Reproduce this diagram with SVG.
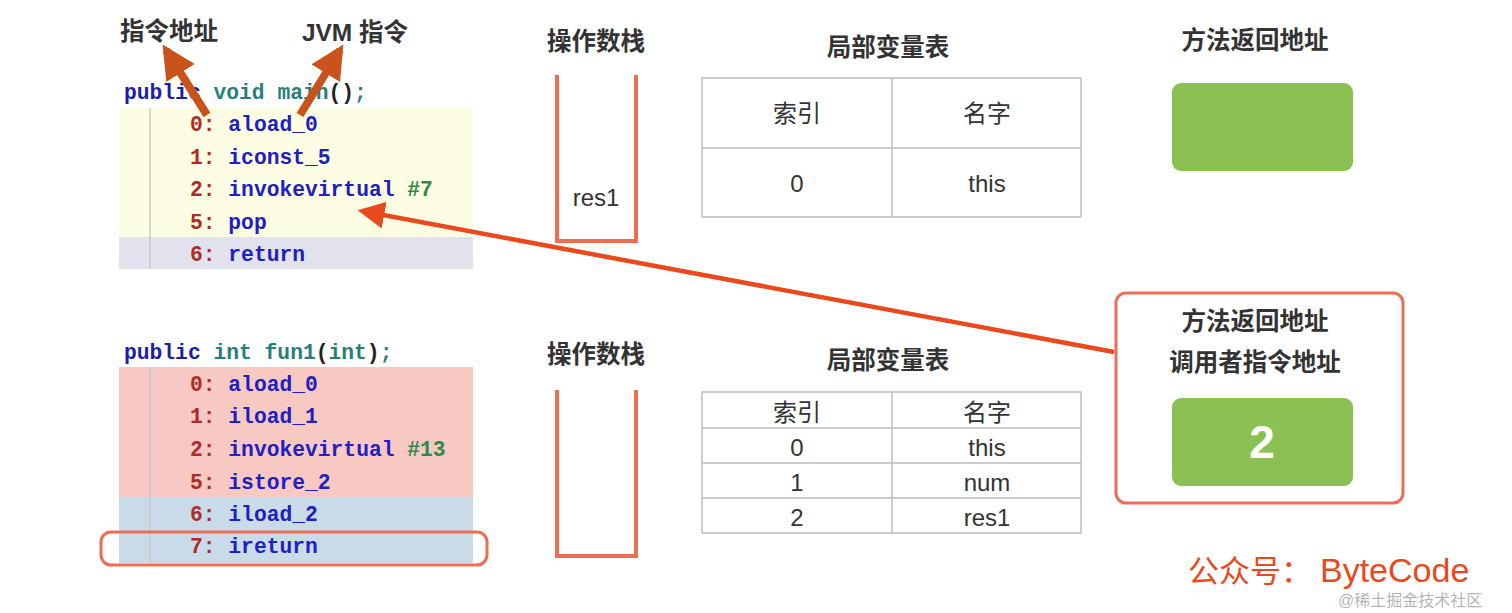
<svg xmlns="http://www.w3.org/2000/svg" width="1512" height="613" viewBox="0 0 1512 613">
<style>
.h{font-family:"Liberation Sans","Noto Sans CJK SC",sans-serif;font-weight:bold;font-size:24.5px;fill:#333;text-anchor:middle;dominant-baseline:central}
.t{font-family:"Liberation Sans","Noto Sans CJK SC",sans-serif;font-size:24px;fill:#333;text-anchor:middle;dominant-baseline:central}
.code{font-family:"Liberation Mono","DejaVu Sans Mono",monospace;font-size:21.3px;font-weight:bold}
.kw{fill:#1d1da8}.ty{fill:#2a7f77}.num{fill:#b02a2a}.op{fill:#2020c0}.ref{fill:#2f8a4a}.pn{fill:#222}
.stack{fill:none;stroke:#ec6f55;stroke-width:4}
.grid{fill:none;stroke:#bdbdbd;stroke-width:1.5}
.green{fill:#8bc152}
.gut{stroke:#c8c8c8;stroke-width:1.5}
</style>
<defs>
<marker id="bigHead" markerWidth="6" markerHeight="6" refX="5" refY="3" orient="auto" markerUnits="strokeWidth">
<path d="M0,0 L6,3 L0,6 Z" fill="#e8491d"/>
</marker>
<marker id="thickHead" markerWidth="4.2" markerHeight="4.2" refX="3.4" refY="2.1" orient="auto" markerUnits="strokeWidth">
<path d="M0,0 L4.2,2.1 L0,4.2 Z" fill="#c9531c"/>
</marker>
</defs>
<rect width="1512" height="613" fill="#fff"/>

<g id="code-main">
<rect x="119" y="108" width="354" height="129" fill="#fdfde3"/>
<rect x="119" y="237" width="354" height="32" fill="#e2e1ee"/>
<line class="gut" x1="150" y1="108" x2="150" y2="269"/>
<text class="code" x="124" y="99"><tspan class="kw">public</tspan> <tspan class="ty">void</tspan> <tspan class="ty">main</tspan><tspan class="pn">()</tspan><tspan class="ty">;</tspan></text>
<text class="code" x="190" y="131"><tspan class="num">0:</tspan> <tspan class="op">aload_0</tspan></text>
<text class="code" x="190" y="164"><tspan class="num">1:</tspan> <tspan class="op">iconst_5</tspan></text>
<text class="code" x="190" y="196"><tspan class="num">2:</tspan> <tspan class="op">invokevirtual</tspan> <tspan class="ref">#7</tspan></text>
<text class="code" x="190" y="229"><tspan class="num">5:</tspan> <tspan class="op">pop</tspan></text>
<text class="code" x="190" y="261"><tspan class="num">6:</tspan> <tspan class="op">return</tspan></text>
</g>

<g id="code-fun1">
<rect x="119" y="367" width="354" height="130" fill="#f8c9c3"/>
<rect x="119" y="497" width="354" height="66" fill="#c9dbe8"/>
<line class="gut" x1="150" y1="367" x2="150" y2="563"/>
<text class="code" x="124" y="359"><tspan class="kw">public</tspan> <tspan class="ty">int</tspan> <tspan class="ty">fun1</tspan><tspan class="pn">(</tspan><tspan class="ty">int</tspan><tspan class="pn">)</tspan><tspan class="ty">;</tspan></text>
<text class="code" x="190" y="391"><tspan class="num">0:</tspan> <tspan class="op">aload_0</tspan></text>
<text class="code" x="190" y="423"><tspan class="num">1:</tspan> <tspan class="op">iload_1</tspan></text>
<text class="code" x="190" y="456"><tspan class="num">2:</tspan> <tspan class="op">invokevirtual</tspan> <tspan class="ref">#13</tspan></text>
<text class="code" x="190" y="489"><tspan class="num">5:</tspan> <tspan class="op">istore_2</tspan></text>
<text class="code" x="190" y="521"><tspan class="num">6:</tspan> <tspan class="op">iload_2</tspan></text>
<text class="code" x="190" y="553"><tspan class="num">7:</tspan> <tspan class="op">ireturn</tspan></text>
<rect x="101" y="532" width="386" height="33" rx="10" fill="none" stroke="#ec6f55" stroke-width="3"/>
</g>

<g id="label-addr"><text class="h" x="169" y="31">指令地址</text></g>
<g id="label-jvm"><text class="h" x="355" y="32">JVM 指令</text></g>

<g id="stack-top">
<text class="h" x="596" y="41">操作数栈</text>
<path class="stack" d="M557,75 V241 H636 V75"/>
<text class="t" x="596" y="197">res1</text>
</g>

<g id="locals-top">
<text class="h" x="888" y="47">局部变量表</text>
<rect class="grid" x="702" y="78" width="379" height="139"/>
<line class="grid" x1="892" y1="78" x2="892" y2="217"/>
<line class="grid" x1="702" y1="148" x2="1081" y2="148"/>
<text class="t" x="797" y="113">索引</text>
<text class="t" x="987" y="113">名字</text>
<text class="t" x="797" y="183">0</text>
<text class="t" x="987" y="183">this</text>
</g>

<g id="ret-top">
<text class="h" x="1255" y="40">方法返回地址</text>
<rect class="green" x="1172" y="83" width="181" height="88" rx="9"/>
</g>

<g id="stack-bottom">
<text class="h" x="596" y="354">操作数栈</text>
<path class="stack" d="M557,390 V556 H636 V390"/>
</g>

<g id="locals-bottom">
<text class="h" x="888" y="360">局部变量表</text>
<rect class="grid" x="702" y="392" width="379" height="141"/>
<line class="grid" x1="892" y1="392" x2="892" y2="533"/>
<line class="grid" x1="702" y1="428" x2="1081" y2="428"/>
<line class="grid" x1="702" y1="463" x2="1081" y2="463"/>
<line class="grid" x1="702" y1="498" x2="1081" y2="498"/>
<text class="t" x="797" y="412">索引</text>
<text class="t" x="987" y="412">名字</text>
<text class="t" x="797" y="447">0</text>
<text class="t" x="987" y="447">this</text>
<text class="t" x="797" y="482">1</text>
<text class="t" x="987" y="482">num</text>
<text class="t" x="797" y="517">2</text>
<text class="t" x="987" y="517">res1</text>
</g>

<g id="ret-bottom">
<rect x="1116" y="293" width="287" height="210" rx="10" fill="#fff" stroke="#ec6f55" stroke-width="3"/>
<text class="h" x="1255" y="321">方法返回地址</text>
<text class="h" x="1255" y="362">调用者指令地址</text>
<rect class="green" x="1172" y="398" width="181" height="88" rx="9"/>
<text x="1262" y="442" font-family="Liberation Sans, sans-serif" font-weight="bold" font-size="46" fill="#fff" text-anchor="middle" dominant-baseline="central">2</text>
</g>

<g id="connectors">
<line x1="207" y1="115" x2="166" y2="50" stroke="#c9531c" stroke-width="8" marker-end="url(#thickHead)"/>
<line x1="300" y1="115" x2="340" y2="50" stroke="#c9531c" stroke-width="8" marker-end="url(#thickHead)"/>
<line x1="1114" y1="352" x2="362" y2="211" stroke="#e8491d" stroke-width="4.5" marker-end="url(#bigHead)"/>
</g>

<g id="footer">
<text x="1188" y="582" font-family="Noto Sans CJK SC, sans-serif" font-size="31" fill="#e8491d">公众号：</text>
<text x="1320" y="582" font-family="Liberation Sans, sans-serif" font-size="34" fill="#e8491d">ByteCode</text>
<text x="1338" y="606" font-family="Liberation Sans, Noto Sans CJK SC, sans-serif" font-size="16" fill="#9a9a9a" fill-opacity="0.75">@稀土掘金技术社区</text>
</g>
</svg>
